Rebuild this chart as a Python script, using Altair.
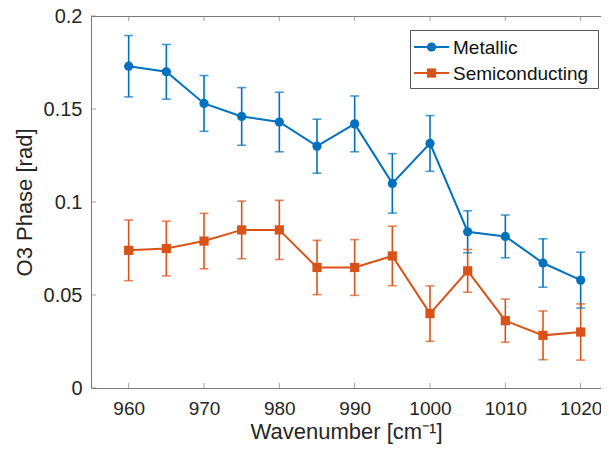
import altair as alt
import pandas as pd

wavenumber = [960, 965, 970, 975, 980, 985, 990, 995, 1000, 1005, 1010, 1015, 1020]
metallic = [0.173, 0.170, 0.153, 0.146, 0.143, 0.130, 0.142, 0.110, 0.1315, 0.084, 0.0815, 0.0672, 0.058]
metallic_err = [0.0165, 0.0147, 0.015, 0.0155, 0.016, 0.0145, 0.015, 0.016, 0.015, 0.0113, 0.0115, 0.013, 0.015]
semiconducting = [0.074, 0.075, 0.079, 0.085, 0.085, 0.0648, 0.0648, 0.071, 0.040, 0.063, 0.0362, 0.0283, 0.0301]
semiconducting_err = [0.0163, 0.0147, 0.0149, 0.0155, 0.0159, 0.0146, 0.015, 0.016, 0.0149, 0.0115, 0.0116, 0.0131, 0.0151]
series_names = ["Metallic", "Semiconducting"]
series_colors = ["#0072BD", "#D95319"]
series_shapes = ["circle", "square"]
x_ticks = [960, 970, 980, 990, 1000, 1010, 1020]
y_ticks = [0, 0.05, 0.1, 0.15, 0.2]

rows = []
for name, vals, errs in [("Metallic", metallic, metallic_err), ("Semiconducting", semiconducting, semiconducting_err)]:
    for w, v, e in zip(wavenumber, vals, errs):
        rows.append({"wn": w, "val": v, "lo": v - e, "hi": v + e, "series": name})
df = pd.DataFrame(rows)
xt = pd.DataFrame({"t": x_ticks})
yt = pd.DataFrame({"t": y_ticks})
leg_df = pd.DataFrame({"series": series_names})
one = pd.DataFrame({"a": [0]})

W, H = 510, 372
FONT = "Liberation Sans"
AX = "#7a7a7a"
xscale = alt.Scale(domain=[955, 1022.70], nice=False, zero=False)
yscale = alt.Scale(domain=[0, 0.2], nice=False)
cscale = alt.Scale(domain=series_names, range=series_colors)
sscale = alt.Scale(domain=series_names, range=series_shapes)

base = alt.Chart(df)

xaxis = alt.Axis(values=x_ticks, title="Wavenumber [cm⁻¹]", grid=False, ticks=False, tickSize=0,
                 labelPadding=11, titlePadding=3, domainColor=AX, domainWidth=1,
                 labelFontSize=19, titleFontSize=22, labelFont=FONT, titleFont=FONT,
                 labelColor="#262626", titleColor="#262626", titleFontWeight="normal", format="d")
yaxis = alt.Axis(values=y_ticks, title="O3 Phase [rad]", grid=False, ticks=False, tickSize=0,
                 labelPadding=9, titlePadding=7, domainColor=AX, domainWidth=1,
                 labelFontSize=20, titleFontSize=22, labelFont=FONT, titleFont=FONT,
                 labelColor="#262626", titleColor="#262626", titleFontWeight="normal", format="~g")

lines = base.mark_line(strokeWidth=2).encode(
    x=alt.X("wn:Q", scale=xscale, axis=xaxis),
    y=alt.Y("val:Q", scale=yscale, axis=yaxis),
    stroke=alt.Stroke("series:N", scale=cscale, legend=None),
    detail="series:N",
)

err_rules = base.mark_rule(strokeWidth=1.6).encode(
    x=alt.X("wn:Q", scale=xscale),
    y=alt.Y("lo:Q", scale=yscale),
    y2="hi:Q",
    stroke=alt.Stroke("series:N", scale=cscale, legend=None),
)
cap_lo = base.mark_tick(thickness=1.6, size=9, orient="horizontal").encode(
    x=alt.X("wn:Q", scale=xscale),
    y=alt.Y("lo:Q", scale=yscale),
    fill=alt.Fill("series:N", scale=cscale, legend=None),
)
cap_hi = base.mark_tick(thickness=1.6, size=9, orient="horizontal").encode(
    x=alt.X("wn:Q", scale=xscale),
    y=alt.Y("hi:Q", scale=yscale),
    fill=alt.Fill("series:N", scale=cscale, legend=None),
)

pts = base.mark_point(filled=True, size=85, opacity=1).encode(
    x=alt.X("wn:Q", scale=xscale),
    y=alt.Y("val:Q", scale=yscale),
    fill=alt.Fill("series:N", scale=cscale, legend=None),
    shape=alt.Shape("series:N", scale=sscale, legend=None),
)

top_line = alt.Chart(one).mark_rule(color=AX, strokeWidth=1).encode(
    x=alt.value(0), x2=alt.value(W), y=alt.value(0.5),
)
top_ticks = alt.Chart(xt).mark_tick(thickness=1, size=5, color=AX).encode(
    x=alt.X("t:Q", scale=xscale),
    y=alt.value(2.5),
)
bottom_ticks = alt.Chart(xt).mark_tick(thickness=1, size=5, color=AX).encode(
    x=alt.X("t:Q", scale=xscale),
    y=alt.value(H - 2.5),
)
left_ticks = alt.Chart(yt).mark_tick(thickness=1, size=5, color=AX).encode(
    y=alt.Y("t:Q", scale=yscale),
    x=alt.value(2.5),
)

# legend box and entries
legend_layers = [
    alt.Chart(one).mark_rect(fill="white", stroke="#555555", strokeWidth=1).encode(
        x=alt.value(319.5), x2=alt.value(507.5), y=alt.value(14.5), y2=alt.value(72.5),
    )
]
for i, name in enumerate(series_names):
    ypos = 31 + 26 * i
    src = alt.Chart(leg_df).transform_filter(alt.datum.series == name)
    legend_layers.append(src.mark_rule(strokeWidth=2).encode(
        x=alt.value(323), x2=alt.value(358), y=alt.value(ypos),
        stroke=alt.Stroke("series:N", scale=cscale, legend=None),
    ))
    legend_layers.append(src.mark_point(filled=True, size=85, opacity=1).encode(
        x=alt.value(340.5), y=alt.value(ypos),
        fill=alt.Fill("series:N", scale=cscale, legend=None),
        shape=alt.Shape("series:N", scale=sscale, legend=None),
    ))
    legend_layers.append(src.mark_text(align="left", baseline="middle", fontSize=19, font=FONT,
                                       color="#111111").encode(
        x=alt.value(362), y=alt.value(ypos + 1), text="series:N",
    ))

chart = alt.layer(lines, err_rules, cap_lo, cap_hi, pts, top_line, top_ticks, bottom_ticks, left_ticks,
                  *legend_layers).properties(
    width=W, height=H, autosize="none",
    padding={"left": 83, "top": 8, "right": 0, "bottom": 58},
    background="white",
).configure_view(stroke=None)

chart.save("out.html", embed_options={"renderer": "svg", "actions": False})
